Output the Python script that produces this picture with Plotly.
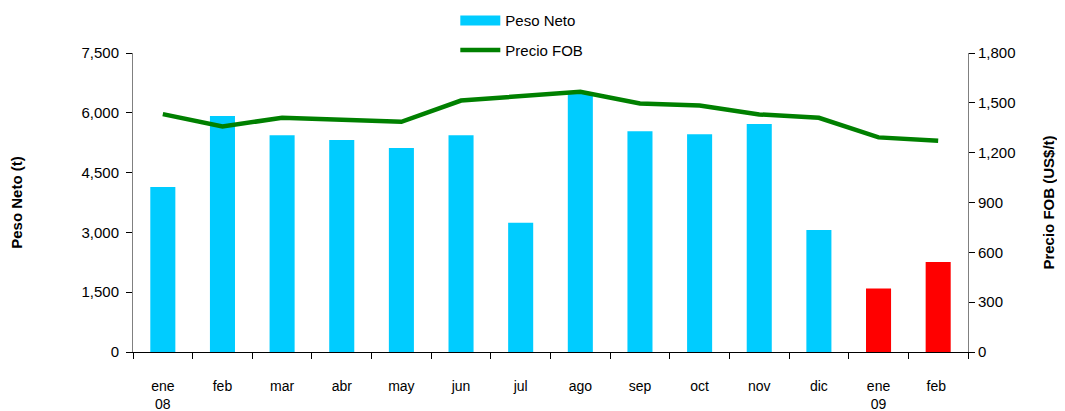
import plotly.graph_objects as go

categories = ["ene<br>08", "feb", "mar", "abr", "may", "jun", "jul", "ago",
              "sep", "oct", "nov", "dic", "ene<br>09", "feb "]
peso_neto = [4140, 5920, 5440, 5320, 5120, 5440, 3240, 6500, 5540, 5460, 5720, 3060, 1590, 2260]
precio_fob = [1432, 1358, 1410, 1398, 1386, 1514, 1538, 1566, 1496, 1484, 1430, 1410, 1292, 1272]
bar_colors = ["#00CCFF"] * 12 + ["#FF0000"] * 2

font = "Liberation Sans, Arial, sans-serif"

fig = go.Figure()
fig.add_trace(go.Bar(x=categories, y=peso_neto, name="Peso Neto",
                     marker=dict(color=bar_colors, line=dict(width=0)),
                     width=0.42, yaxis="y", showlegend=False))
# legend proxy for the bars (wide rectangle swatch)
fig.add_trace(go.Scatter(x=[None], y=[None], name="Peso Neto", mode="lines",
                         line=dict(color="#00CCFF", width=10), legendgroup="a",
                         legendrank=1))
fig.add_trace(go.Scatter(x=categories, y=precio_fob, name="Precio FOB",
                         mode="lines", line=dict(color="#008000", width=4.5),
                         yaxis="y2", legendgroup="b", legendrank=2))

fig.update_layout(
    width=1065, height=411,
    margin=dict(l=125, r=105, t=45, b=67, autoexpand=False),
    paper_bgcolor="white", plot_bgcolor="white",
    font=dict(family=font, size=13, color="black"),
    showlegend=True,
    legend=dict(x=0.386, xanchor="left", y=1.163, yanchor="top",
                bgcolor="rgba(0,0,0,0)", font=dict(size=15, family=font),
                itemwidth=40, tracegroupgap=7),
    xaxis=dict(type="category", showline=True, linecolor="black", linewidth=1,
               ticks="outside", tickson="boundaries", ticklen=6, tickcolor="black",
               showgrid=False, tickfont=dict(size=14), ticklabelstandoff=21),
    yaxis=dict(range=[0, 7500], tickvals=[0, 1500, 3000, 4500, 6000, 7500],
               tickformat=",", showline=True, linecolor="#808080", linewidth=1,
               ticks="outside", ticklen=6, tickcolor="black", showgrid=False, zeroline=False,
               tickfont=dict(size=15), ticklabelstandoff=4,
               title=dict(text="<b>Peso Neto (t)</b>", font=dict(size=15), standoff=56)),
    yaxis2=dict(range=[0, 1800], tickvals=[0, 300, 600, 900, 1200, 1500, 1800],
                tickformat=",", overlaying="y", side="right", showline=True,
                linecolor="#808080", linewidth=1, ticks="outside", ticklen=6,
                tickcolor="black", showgrid=False, zeroline=False,
                tickfont=dict(size=15),
                title=dict(text="<b>Precio FOB (US$/t)</b>", font=dict(size=15), standoff=28)),
)

fig.write_html("out.html")
